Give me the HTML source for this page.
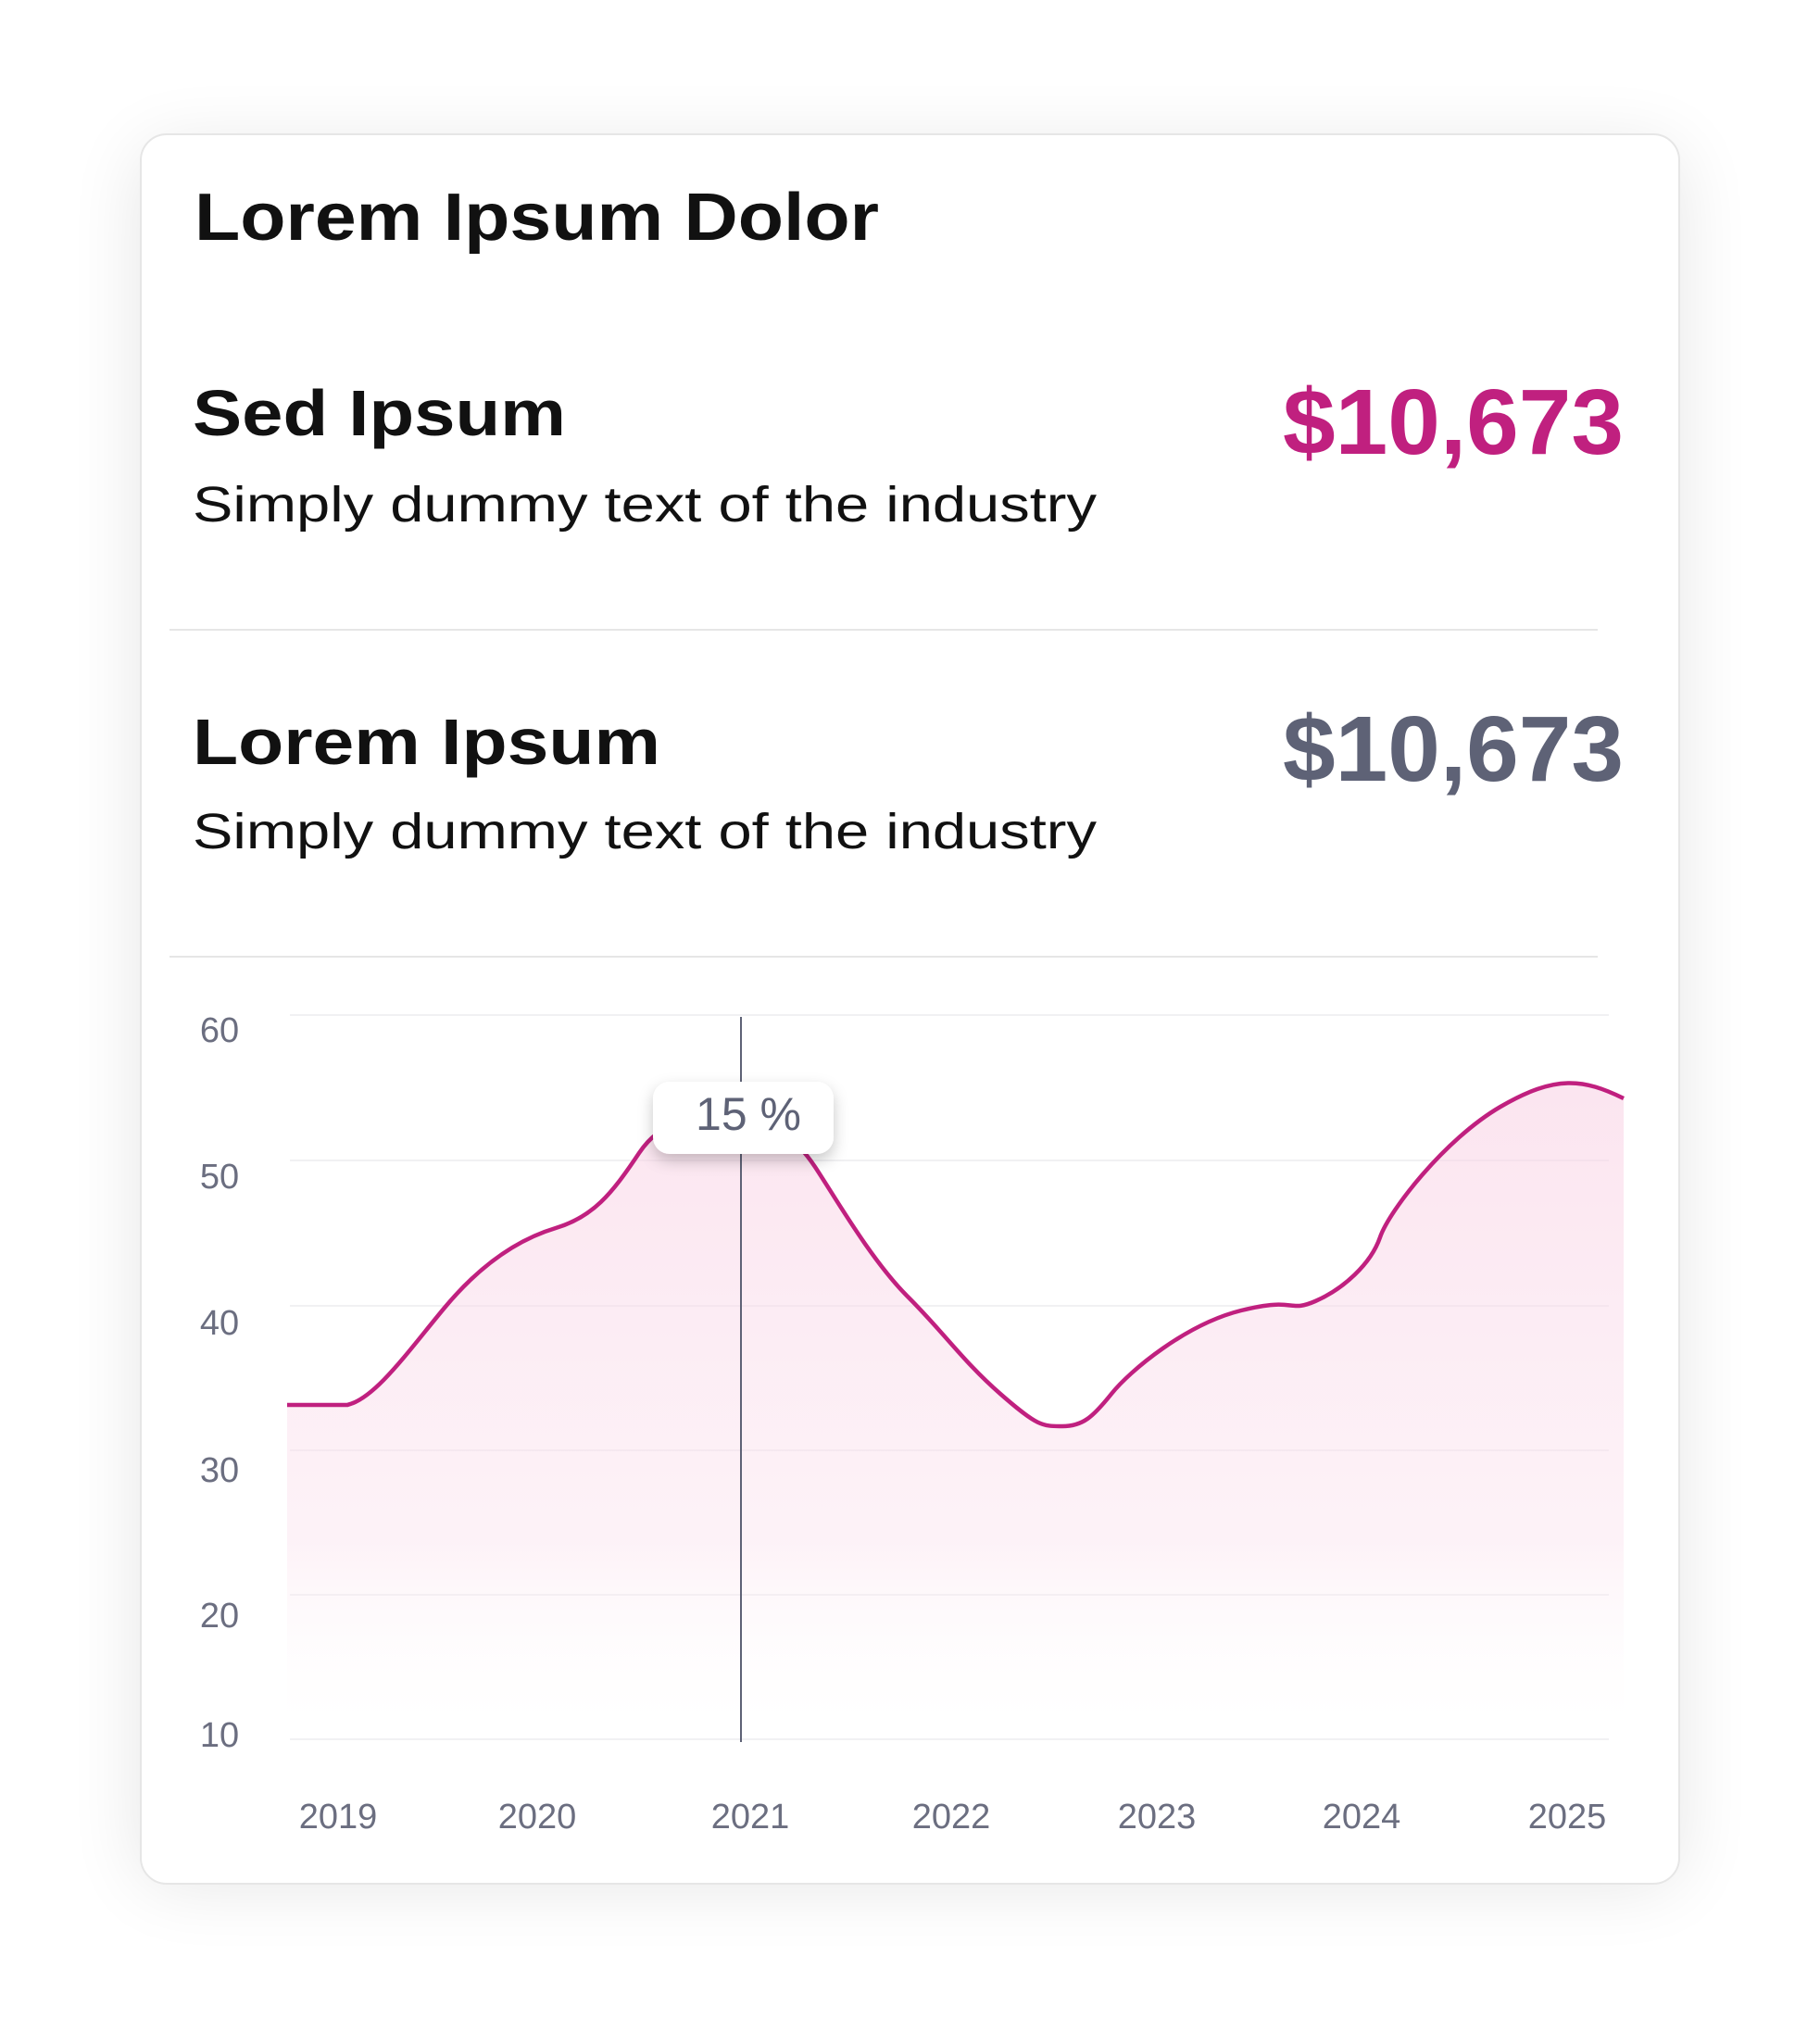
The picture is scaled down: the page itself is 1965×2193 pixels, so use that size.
<!DOCTYPE html>
<html><head><meta charset="utf-8"><style>
html,body{margin:0;padding:0;background:#fff;}
svg{display:block;}
text{font-family:"Liberation Sans",sans-serif;}
</style></head><body>
<svg width="1965" height="2193" viewBox="0 0 1965 2193" xmlns="http://www.w3.org/2000/svg">
<defs>
<filter id="sh" x="-20%" y="-20%" width="140%" height="140%">
<feGaussianBlur stdDeviation="40"/>
</filter>
<filter id="tsh" x="-30%" y="-30%" width="160%" height="180%">
<feDropShadow dx="0" dy="7" stdDeviation="8" flood-color="#000" flood-opacity="0.22"/>
</filter>
<linearGradient id="fg" x1="0" y1="0" x2="0" y2="1">
<stop offset="0" stop-color="#f8cfe3" stop-opacity="0.55"/>
<stop offset="0.7" stop-color="#fbe3ee" stop-opacity="0.45"/>
<stop offset="1" stop-color="#ffffff" stop-opacity="0"/>
</linearGradient>
</defs>
<rect x="152" y="160" width="1661" height="1874" rx="28" fill="#000" opacity="0.10" filter="url(#sh)"/>
<rect x="152" y="145" width="1661" height="1889" rx="28" fill="#fff" stroke="#e6e6e6" stroke-width="2"/>

<text x="210" y="259" font-size="72" font-weight="bold" fill="#111" textLength="739" lengthAdjust="spacingAndGlyphs">Lorem Ipsum Dolor</text>

<text x="208" y="470" font-size="70" font-weight="bold" fill="#111" textLength="403" lengthAdjust="spacingAndGlyphs">Sed Ipsum</text>
<text x="208" y="563" font-size="54" fill="#111" textLength="976" lengthAdjust="spacingAndGlyphs">Simply dummy text of the industry</text>
<text x="1385" y="490" font-size="100" font-weight="bold" fill="#c0207f" textLength="368" lengthAdjust="spacingAndGlyphs">$10,673</text>
<rect x="183" y="679" width="1542" height="2" fill="#e6e6e6"/>

<text x="208" y="825" font-size="70" font-weight="bold" fill="#111" textLength="505" lengthAdjust="spacingAndGlyphs">Lorem Ipsum</text>
<text x="208" y="916" font-size="54" fill="#111" textLength="976" lengthAdjust="spacingAndGlyphs">Simply dummy text of the industry</text>
<text x="1385" y="843" font-size="100" font-weight="bold" fill="#5e6276" textLength="368" lengthAdjust="spacingAndGlyphs">$10,673</text>
<rect x="183" y="1032" width="1542" height="2" fill="#e6e6e6"/>

<g stroke="#f1f1f3" stroke-width="2">
<line x1="313" y1="1096" x2="1737" y2="1096"/>
<line x1="313" y1="1253" x2="1737" y2="1253"/>
<line x1="313" y1="1410" x2="1737" y2="1410"/>
<line x1="313" y1="1566" x2="1737" y2="1566"/>
<line x1="313" y1="1722" x2="1737" y2="1722"/>
<line x1="313" y1="1878" x2="1737" y2="1878"/>
</g>
<g font-size="38" fill="#6b6e80" text-anchor="middle">
<text x="237" y="1125">60</text>
<text x="237" y="1283">50</text>
<text x="237" y="1441">40</text>
<text x="237" y="1600">30</text>
<text x="237" y="1757">20</text>
<text x="237" y="1886">10</text>
<text x="365" y="1974">2019</text>
<text x="580" y="1974">2020</text>
<text x="810" y="1974">2021</text>
<text x="1027" y="1974">2022</text>
<text x="1249" y="1974">2023</text>
<text x="1470" y="1974">2024</text>
<text x="1692" y="1974">2025</text>
</g>

<path d="M310,1517 L375,1517 C405,1510 440,1460 480,1412 S560,1338 600,1326 S660,1290 690,1245 S760,1210 800,1212 S860,1230 880,1260 S940,1360 980,1400 S1040,1470 1080,1505 S1125,1540 1147,1540 S1180,1530 1200,1505 S1280,1430 1340,1415 S1390,1418 1420,1405 S1480,1365 1490,1336 S1560,1230 1620,1195 S1710,1165 1753,1186 L1753,1880 L310,1880 Z" fill="url(#fg)"/>
<path d="M310,1517 L375,1517 C405,1510 440,1460 480,1412 S560,1338 600,1326 S660,1290 690,1245 S760,1210 800,1212 S860,1230 880,1260 S940,1360 980,1400 S1040,1470 1080,1505 S1125,1540 1147,1540 S1180,1530 1200,1505 S1280,1430 1340,1415 S1390,1418 1420,1405 S1480,1365 1490,1336 S1560,1230 1620,1195 S1710,1165 1753,1186" fill="none" stroke="#c0207f" stroke-width="4.5"/>

<line x1="800" y1="1098" x2="800" y2="1881" stroke="#5e6276" stroke-width="2"/>
<rect x="705" y="1168" width="195" height="78" rx="18" fill="#fff" filter="url(#tsh)"/>
<text x="808" y="1220" font-size="50" fill="#5e6276" text-anchor="middle">15 %</text>
</svg>
</body></html>
